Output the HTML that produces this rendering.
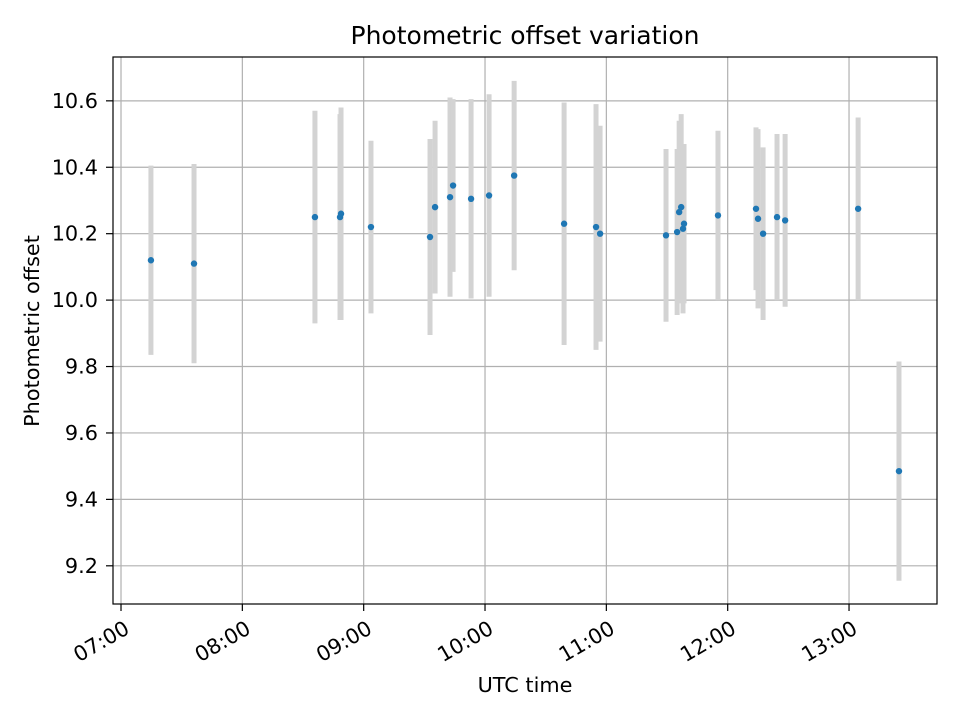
<!DOCTYPE html>
<html><head><meta charset="utf-8"><style>
body{margin:0;background:#fff}
svg{display:block;font-family:"DejaVu Sans","Liberation Sans",sans-serif}
</style></head><body>
<svg id="chart" width="960" height="720">
<rect width="960" height="720" fill="#fff"/>
<text x="525" y="44" text-anchor="middle" font-size="25" fill="#000">Photometric offset variation</text>
<text x="525" y="692" text-anchor="middle" font-size="20.8">UTC time</text>
<text transform="translate(39,331) rotate(-90)" text-anchor="middle" font-size="20.8">Photometric offset</text>
<g id="grid"></g><g id="bars"></g><g id="pts"></g><g id="axes"></g>
</svg>
<script>
// minutes after 07:00 UTC
const times=[14.8,36.1,95.9,108.3,108.8,123.6,152.8,155.3,162.7,164.2,173.1,182.0,194.4,219.1,234.9,236.9,269.5,275.0,276.0,277.0,277.9,278.4,295.2,314.0,315.0,317.5,324.4,328.4,364.5,384.7];
const offsets=[10.12,10.11,10.25,10.25,10.26,10.22,10.19,10.28,10.31,10.345,10.305,10.315,10.375,10.23,10.22,10.20,10.195,10.205,10.265,10.28,10.215,10.23,10.255,10.275,10.245,10.20,10.25,10.24,10.275,9.485];
const errors=[0.285,0.30,0.32,0.31,0.32,0.26,0.295,0.26,0.30,0.26,0.30,0.305,0.285,0.365,0.37,0.325,0.26,0.25,0.275,0.28,0.255,0.24,0.255,0.245,0.27,0.26,0.25,0.26,0.275,0.33];
const xTickLabels=["07:00","08:00","09:00","10:00","11:00","12:00","13:00"];
const yTickLabels=["9.2","9.4","9.6","9.8","10.0","10.2","10.4","10.6"];
const L=113,R=937,T=57,B=604,x0=-3.96,x1=403.5,y0=9.085,y1=10.732;
const sx=v=>L+(v-x0)/(x1-x0)*(R-L), sy=v=>B-(v-y0)/(y1-y0)*(B-T);
const NS="http://www.w3.org/2000/svg";
function mk(tag,attrs,parent){const e=document.createElementNS(NS,tag);for(const k in attrs)e.setAttribute(k,attrs[k]);document.getElementById(parent).appendChild(e);return e;}
xTickLabels.forEach((t,i)=>{const x=sx(i*60);
 const g=mk('line',{x1:x,x2:x,y1:T,y2:B,stroke:'#b0b0b0','stroke-width':1.2},'grid');
 
 
 const tk=mk('line',{x1:x,x2:x,y1:B,y2:B+7,stroke:'#000','stroke-width':1.2},'axes');
 
 
 const tx=mk('text',{x:0,y:0,'text-anchor':'end','font-size':20.8,transform:`translate(${x+2},${B+15}) rotate(-30)`,dy:'0.75em'},'axes');
 tx.textContent=t;
 
 
});
yTickLabels.forEach(t=>{const y=sy(parseFloat(t));
 const g=mk('line',{x1:L,x2:R,y1:y,y2:y,stroke:'#b0b0b0','stroke-width':1.2},'grid');
 
 
 const tk=mk('line',{x1:L-7,x2:L,y1:y,y2:y,stroke:'#000','stroke-width':1.2},'axes');
 
 
 const tx=mk('text',{x:L-15,y:y+7,'text-anchor':'end','font-size':20.8},'axes');
 tx.textContent=t;
 
 
});
times.forEach((t,i)=>{const x=sx(t);
 const b=mk('line',{x1:x,x2:x,y1:sy(offsets[i]+errors[i]),y2:sy(offsets[i]-errors[i]),stroke:'#d3d3d3','stroke-width':5},'bars');
 
 
 const c=mk('circle',{cx:x,cy:sy(offsets[i]),r:3.2,fill:'#1f77b4'},'pts');
 
 
});
const fr=mk('rect',{x:L,y:T,width:R-L,height:B-T,fill:'none',stroke:'#000','stroke-width':1.2},'axes');


</script>
</body></html>
